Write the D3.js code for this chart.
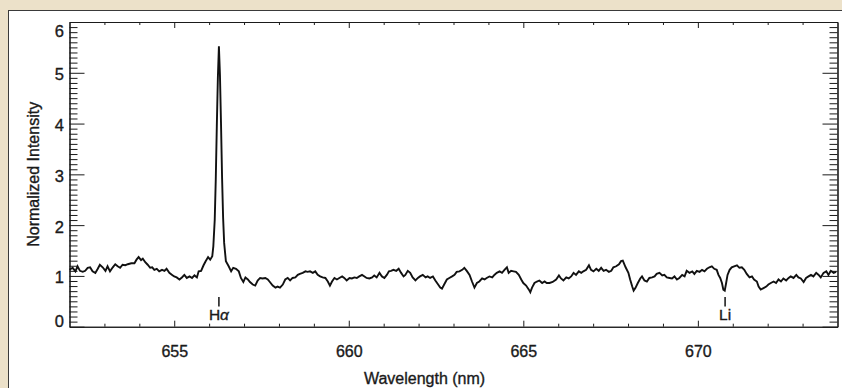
<!DOCTYPE html>
<html>
<head>
<meta charset="utf-8">
<script src="https://cdn.jsdelivr.net/npm/d3@7"></script>
<style>
  html, body { margin: 0; padding: 0; background: #ece1c9; }
  svg { display: block; }
  text { font-family: "Liberation Sans", Arial, Helvetica, sans-serif; fill: #1a1a1a; stroke: #1a1a1a; stroke-width: 0.35px; }
</style>
</head>
<body>
<svg id="chart" width="842" height="388"></svg>
<script>
// ---- data ----
const wavelength = [
  652.00,652.09,652.17,652.23,652.30,652.38,652.45,652.52,652.59,652.66,652.74,652.81,652.87,652.95,
  653.03,653.09,653.16,653.24,653.31,653.38,653.45,653.52,653.60,653.67,653.77,653.86,653.92,653.98,
  654.05,654.10,654.17,654.24,654.31,654.37,654.43,654.50,654.57,654.65,654.72,654.78,654.86,654.94,
  655.00,655.07,655.15,655.22,655.29,655.36,655.44,655.51,655.58,655.65,655.70,655.77,655.84,655.90,
  655.97,656.03,656.09,656.12,656.16,656.19,656.22,656.25,656.28,656.31,656.34,656.37,656.40,656.43,
  656.48,656.56,656.63,656.69,656.77,656.85,656.91,656.98,657.04,657.11,657.17,657.25,657.32,657.39,
  657.46,657.53,657.61,657.68,657.74,657.82,657.90,657.96,658.03,658.11,658.18,658.25,658.32,658.39,
  658.47,658.54,658.60,658.68,658.76,658.82,658.89,658.97,659.04,659.11,659.18,659.25,659.33,659.40,
  659.46,659.52,659.59,659.66,659.73,659.81,659.87,659.94,660.02,660.09,660.16,660.23,660.30,660.38,
  660.45,660.51,660.59,660.67,660.73,660.80,660.88,660.95,661.02,661.09,661.15,661.21,661.28,661.36,
  661.43,661.50,661.57,661.62,661.69,661.76,661.83,661.91,661.98,662.04,662.12,662.20,662.26,662.33,
  662.41,662.48,662.55,662.62,662.67,662.74,662.81,662.88,662.96,663.03,663.09,663.17,663.25,663.31,
  663.38,663.46,663.53,663.60,663.67,663.74,663.82,663.89,663.95,664.03,664.11,664.17,664.24,664.32,
  664.39,664.46,664.53,664.58,664.65,664.72,664.79,664.87,664.94,665.00,665.08,665.16,665.20,665.25,
  665.32,665.39,665.46,665.54,665.61,665.67,665.75,665.84,665.94,666.02,666.08,666.15,666.23,666.30,
  666.37,666.44,666.51,666.59,666.66,666.72,666.80,666.88,666.94,667.01,667.09,667.16,667.23,667.30,
  667.37,667.45,667.52,667.58,667.66,667.74,667.80,667.85,667.93,668.01,668.06,668.12,668.16,668.21,
  668.28,668.35,668.40,668.47,668.54,668.61,668.69,668.76,668.82,668.90,668.98,669.04,669.11,669.19,
  669.26,669.33,669.40,669.47,669.55,669.62,669.68,669.76,669.84,669.90,669.97,670.05,670.12,670.19,
  670.26,670.33,670.40,670.47,670.54,670.59,670.64,670.69,670.73,670.77,670.81,670.85,670.91,670.97,
  671.04,671.12,671.19,671.26,671.33,671.40,671.48,671.55,671.61,671.69,671.74,671.80,671.88,671.96,
  672.02,672.09,672.17,672.24,672.31,672.38,672.45,672.53,672.60,672.66,672.74,672.82,672.88,672.95,
  673.03,673.10,673.17,673.24,673.31,673.39,673.46,673.52,673.60,673.68,673.74,673.81,673.89,673.96
];
const intensity = [
  1.12,1.16,1.09,1.19,1.10,1.08,1.10,1.16,1.17,1.09,1.06,1.14,1.22,1.17,
  1.10,1.19,1.09,1.17,1.23,1.19,1.16,1.22,1.21,1.23,1.25,1.25,1.32,1.37,
  1.31,1.34,1.27,1.22,1.16,1.17,1.12,1.14,1.09,1.12,1.10,1.14,1.06,1.02,
  0.99,0.97,0.93,0.97,1.02,0.96,0.99,0.96,1.01,0.97,1.09,1.10,1.21,1.29,
  1.37,1.32,1.39,1.58,2.10,2.90,3.95,4.90,5.52,4.95,4.00,2.95,2.15,1.65,
  1.29,1.19,1.09,1.16,1.14,1.09,0.96,0.88,0.97,0.93,0.88,0.83,0.81,0.91,
  0.96,0.95,0.96,0.93,0.88,0.81,0.77,0.79,0.77,0.83,0.93,0.96,0.91,0.96,
  0.97,1.02,1.04,1.06,1.09,1.08,1.09,1.06,1.09,1.02,0.99,0.97,0.96,0.89,
  0.81,0.89,0.96,0.93,0.96,0.99,0.96,0.91,0.96,0.95,0.97,0.96,0.99,1.02,
  0.99,0.96,0.95,0.97,1.01,0.97,1.06,0.99,0.96,1.02,1.09,1.10,1.12,1.10,
  1.14,1.06,0.99,1.02,1.10,1.06,0.97,0.91,0.96,0.99,1.02,0.97,0.99,0.96,
  0.99,0.91,0.84,0.77,0.75,0.84,0.93,0.96,0.99,1.02,1.08,1.09,1.12,1.16,
  1.10,1.02,0.89,0.77,0.86,0.89,0.95,0.93,0.96,0.99,0.97,1.02,1.06,1.09,
  1.06,1.12,1.17,1.06,1.10,1.09,1.08,1.02,0.93,0.86,0.81,0.73,0.68,0.77,
  0.86,0.89,0.91,0.86,0.89,0.86,0.86,0.88,0.93,1.01,0.95,0.91,0.97,0.95,
  0.99,1.06,1.02,1.09,1.06,1.09,1.12,1.21,1.12,1.09,1.14,1.10,1.16,1.10,
  1.12,1.08,1.10,1.17,1.19,1.23,1.29,1.30,1.17,1.06,0.93,0.79,0.71,0.76,
  0.86,0.95,0.99,0.91,0.89,0.96,0.97,0.99,1.04,1.06,1.01,1.02,0.97,0.96,
  0.95,0.99,0.93,0.96,1.02,0.99,1.10,1.06,1.09,1.04,1.10,1.08,1.12,1.09,
  1.14,1.17,1.19,1.14,1.12,1.02,0.96,0.86,0.73,0.71,0.86,1.02,1.12,1.17,
  1.19,1.21,1.16,1.17,1.12,1.04,0.97,0.99,0.93,0.89,0.79,0.73,0.76,0.79,
  0.83,0.86,0.89,0.86,0.93,0.89,0.95,0.91,0.96,0.99,0.96,1.02,0.97,0.95,
  0.88,0.96,0.99,1.02,0.99,1.06,1.02,0.97,1.06,1.09,1.02,1.10,1.06,1.08
];
const xDomain = [652, 674];
const yDomain = [0, 6];
const xMajorTicks = [655, 660, 665, 670];
const xMinorTicks = [653,654,656,657,658,659,661,662,663,664,666,667,668,669,671,672,673];
const yMajorTicks = [0, 1, 2, 3, 4, 5, 6];
const yTickLabels = ["0", "1", "2", "3", "4", "5", "6"];
const lineMarkers = [
  { name: "H", greek: "α", wl: 656.28 },
  { name: "Li", greek: "", wl: 670.78 }
];
const xTitle = "Wavelength (nm)";
const yTitle = "Normalized Intensity";

// ---- drawing ----
const svg = d3.select("#chart");
const L = 69.5, R = 837.5, T = 22, B = 326.7;

// white panel
svg.append("rect").attr("x", 8.5).attr("y", 10.5).attr("width", 900).attr("height", 500)
  .attr("fill", "#ffffff").attr("stroke", "#3a3a3a").attr("stroke-width", 1);

const x = d3.scaleLinear().domain(xDomain).range([L, R]);
const y = d3.scaleLinear().domain(yDomain).range([B, T]);

// y minor ticks every 0.1
const yMinor = d3.range(0, 60).map(i => i / 10).filter(v => Math.abs(v - Math.round(v)) > 1e-6);

function styleAxis(g) {
  g.selectAll("path").attr("stroke", "#1a1a1a").attr("stroke-width", 1.1);
  g.selectAll("line").attr("stroke", "#1a1a1a").attr("stroke-width", 1);
}

// bottom
svg.append("g").attr("transform", `translate(0,${B})`)
  .call(d3.axisBottom(x).tickValues(xMinorTicks).tickSize(-3).tickSizeOuter(0).tickFormat(""))
  .call(styleAxis);
const bx = svg.append("g").attr("transform", `translate(0,${B})`)
  .call(d3.axisBottom(x).tickValues(xMajorTicks).tickSize(-6).tickSizeOuter(0).tickPadding(19).tickFormat(d3.format("d")))
  .call(styleAxis);
bx.selectAll("text").attr("font-size", 16).attr("fill", "#1a1a1a")
  .style("font-family", '"Liberation Sans", Arial, sans-serif');
// top
svg.append("g").attr("transform", `translate(0,${T})`)
  .call(d3.axisTop(x).tickValues(xMinorTicks).tickSize(-3).tickSizeOuter(0).tickFormat(""))
  .call(styleAxis);
svg.append("g").attr("transform", `translate(0,${T})`)
  .call(d3.axisTop(x).tickValues(xMajorTicks).tickSize(-6).tickSizeOuter(0).tickFormat(""))
  .call(styleAxis);
// left
svg.append("g").attr("transform", `translate(${L},0)`)
  .call(d3.axisLeft(y).tickValues(yMinor).tickSize(-8).tickSizeOuter(0).tickFormat(""))
  .call(styleAxis);
svg.append("g").attr("transform", `translate(${L},0)`)
  .call(d3.axisLeft(y).tickValues(yMajorTicks).tickSize(-15).tickSizeOuter(0).tickFormat(""))
  .call(styleAxis);
// right
svg.append("g").attr("transform", `translate(${R},0)`)
  .call(d3.axisRight(y).tickValues(yMinor).tickSize(-8).tickSizeOuter(0).tickFormat(""))
  .call(styleAxis);
svg.append("g").attr("transform", `translate(${R},0)`)
  .call(d3.axisRight(y).tickValues(yMajorTicks).tickSize(-15).tickSizeOuter(0).tickFormat(""))
  .call(styleAxis);

// y tick labels
svg.append("g").selectAll("text").data(yMajorTicks).join("text")
  .attr("x", 64)
  .attr("y", (d) => Math.max(37, Math.min(327, y(d) + 7.5)))
  .attr("text-anchor", "end")
  .attr("font-size", 16.5)
  .text((d, i) => yTickLabels[i]);

// titles
svg.append("text").attr("x", 424.5).attr("y", 383.5).attr("text-anchor", "middle")
  .attr("font-size", 16).text(xTitle);
svg.append("text").attr("transform", `translate(38.5,${(T + B) / 2}) rotate(-90)`)
  .attr("text-anchor", "middle").attr("font-size", 16).text(yTitle);

// spectrum
const pts = wavelength.map((w, i) => [w, intensity[i]]);
svg.append("path").datum(pts)
  .attr("fill", "none").attr("stroke", "#111").attr("stroke-width", 1.9)
  .attr("stroke-linejoin", "miter")
  .attr("d", d3.line().x(d => x(d[0])).y(d => y(d[1])));

// line markers
const mk = svg.append("g").selectAll("g").data(lineMarkers).join("g");
mk.append("line")
  .attr("x1", d => x(d.wl)).attr("x2", d => x(d.wl))
  .attr("y1", 297).attr("y2", 306.5)
  .attr("stroke", "#111").attr("stroke-width", 1.5);
const mt = mk.append("text")
  .attr("x", d => x(d.wl)).attr("y", 320)
  .attr("text-anchor", "middle").attr("font-size", 15.5);
mt.append("tspan").text(d => d.name);
mt.append("tspan").attr("font-style", "italic").text(d => d.greek);
</script>
</body>
</html>
